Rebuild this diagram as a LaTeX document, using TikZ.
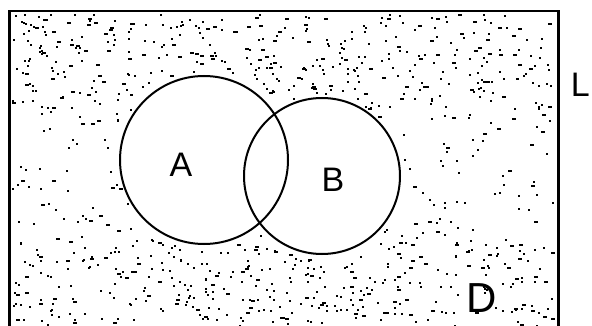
\documentclass[tikz,border=0pt]{standalone}
\usepackage{fontspec}
\setmainfont{Liberation Sans}
\usetikzlibrary{positioning}

\begin{document}
\begin{tikzpicture}[
    x=1pt, y=-1pt,
    universe/.style={draw=black, line width=2.5pt, anchor=north west, inner sep=0pt},
    setcircle/.style={circle, draw=black, line width=2pt, inner sep=0pt},
    setlabel/.style={inner sep=0pt, font=\fontsize{34}{34}\selectfont},
    speck/.style={fill=black}
  ]
  \useasboundingbox (0,0) rectangle (592,326);

  % specks in the region outside A and B
  \pgfmathsetseed{42}
  \foreach \i in {1,...,1400} {
    \pgfmathsetmacro{\px}{12+random(0,540)}
    \pgfmathsetmacro{\py}{14+random(0,312)}
    \pgfmathsetmacro{\da}{((\px-204)/10)^2+((\py-160)/10)^2}
    \pgfmathsetmacro{\db}{((\px-322)/10)^2+((\py-176)/10)^2}
    \pgfmathtruncatemacro{\ok}{and(and(\da>77,\db>67),or(or(\py<110,\py>238),rnd<0.4))}
    \pgfmathtruncatemacro{\w}{2+2*random(0,1)*random(0,1)}
    \ifnum\ok=1
      \fill[speck] (\px,\py) rectangle ++(\w,2);
    \fi
  }

  \node[universe, minimum width=549pt, minimum height=335pt] (U) at (8,10) {};
  \node[setcircle, minimum size=168pt] (setA) at (204,160) {};
  \node[setcircle, minimum size=156pt] (setB) at (322,176) {};

  \node[setlabel] (labA) at (181,165) {A};
  \node[setlabel] (labB) at (333,180) {B};
  \node[setlabel, font=\fontsize{42}{42}\selectfont] (labD) at (482,298) {D};
  \node[setlabel, anchor=east] (labU) at (590,85) {L};
\end{tikzpicture}
\end{document}
